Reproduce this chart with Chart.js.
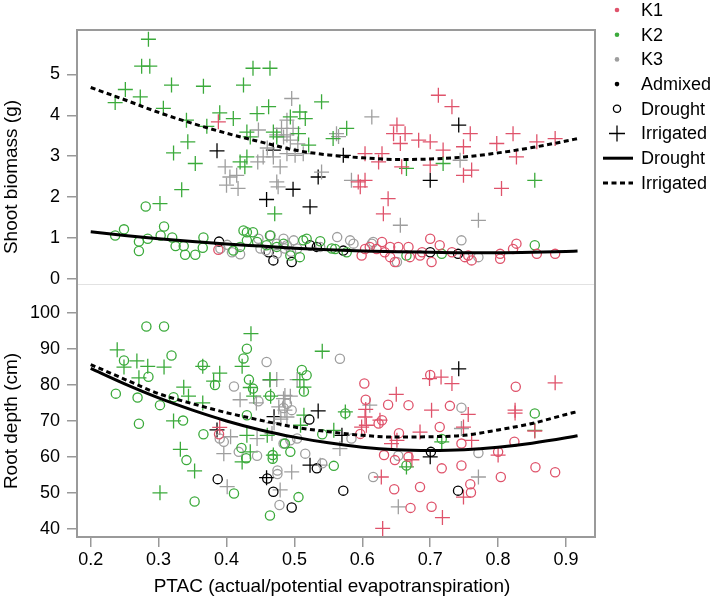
<!DOCTYPE html>
<html><head><meta charset="utf-8">
<script src="https://cdn.jsdelivr.net/npm/chart.js@4.4.1/dist/chart.umd.min.js"></script>
<style>html,body{margin:0;padding:0;background:#fff;}#wrap{width:714px;height:599px;}</style>
</head><body><div id="wrap"><canvas id="c" width="714" height="599"></canvas></div>
<script>
// ---------- tick labels & titles ----------
const xTicks = [0.2,0.3,0.4,0.5,0.6,0.7,0.8,0.9];
const shootTicks = [0,1,2,3,4,5];
const rootTicks = [40,50,60,70,80,90,100];
const xTitle = 'PTAC (actual/potential evapotranspiration)';
const shootTitle = 'Shoot biomass (g)';
const rootTitle = 'Root depth (cm)';
const groups = ['K1','K2','K3','Admixed'];
const treatments = ['Drought','Irrigated'];

// ---------- shoot biomass (g) : [PTAC, value] ----------
const shootIrrigatedK1 = [[0.712,4.49],[0.732,4.21],[0.651,3.76],[0.646,3.55],[0.663,3.55],[0.656,3.31],[0.683,3.39],[0.700,3.35],[0.719,3.15],[0.749,3.23],[0.759,3.55],[0.798,3.31],[0.822,3.55],[0.827,2.98],[0.857,3.35],[0.884,3.43],[0.604,3.06],[0.629,3.06],[0.624,2.86],[0.700,2.78],[0.749,2.53],[0.761,2.66],[0.658,2.74],[0.604,2.41],[0.597,2.25],[0.805,2.21],[0.638,1.96],[0.631,1.59],[0.388,3.84],[0.594,2.37]];
const shootIrrigatedK2 = [[0.285,5.86],[0.275,5.20],[0.287,5.20],[0.251,4.63],[0.273,4.45],[0.236,4.31],[0.307,4.17],[0.319,4.74],[0.366,4.71],[0.341,3.88],[0.371,3.73],[0.390,4.06],[0.410,3.92],[0.343,3.35],[0.322,3.08],[0.354,2.82],[0.334,2.18],[0.302,1.84],[0.425,4.74],[0.439,5.15],[0.464,5.15],[0.445,4.04],[0.462,4.21],[0.430,3.59],[0.435,3.47],[0.420,2.86],[0.430,2.98],[0.427,2.74],[0.469,3.59],[0.474,3.47],[0.494,3.96],[0.508,4.08],[0.516,3.92],[0.540,4.33],[0.521,3.27],[0.506,3.55],[0.471,1.59],[0.557,3.43],[0.577,3.68],[0.665,2.70],[0.719,2.82],[0.854,2.41]];
const shootIrrigatedK3 = [[0.496,4.41],[0.489,3.88],[0.481,3.68],[0.498,3.68],[0.484,3.47],[0.494,3.39],[0.454,2.98],[0.446,2.86],[0.469,2.98],[0.489,3.06],[0.501,3.02],[0.513,3.06],[0.479,2.74],[0.474,2.37],[0.476,2.25],[0.398,2.74],[0.405,2.49],[0.415,2.53],[0.400,2.29],[0.417,2.21],[0.540,2.61],[0.584,2.41],[0.562,3.55],[0.447,3.64],[0.474,3.52],[0.489,3.52],[0.565,3.48],[0.614,3.96],[0.744,2.90],[0.656,1.31],[0.771,1.43],[0.460,3.20],[0.505,3.30]];
const shootIrrigatedAdm = [[0.386,3.13],[0.469,3.15],[0.459,1.94],[0.498,2.19],[0.523,1.76],[0.535,2.49],[0.572,3.02],[0.742,3.76],[0.700,2.41]];
const shootDroughtK1 = [[0.388,0.71],[0.599,0.57],[0.604,0.73],[0.621,0.73],[0.629,0.90],[0.633,0.65],[0.641,0.53],[0.648,0.41],[0.653,0.78],[0.668,0.78],[0.670,0.53],[0.685,0.57],[0.700,0.98],[0.702,0.41],[0.714,0.82],[0.732,0.65],[0.756,0.57],[0.761,0.45],[0.803,0.61],[0.803,0.49],[0.822,0.73],[0.827,0.86],[0.857,0.61],[0.884,0.61],[0.611,0.78],[0.641,0.78],[0.688,0.65],[0.751,0.53]];
const shootDroughtK2 = [[0.281,1.77],[0.236,1.06],[0.249,1.21],[0.271,0.91],[0.271,0.68],[0.284,0.98],[0.303,1.06],[0.308,1.28],[0.320,1.01],[0.325,0.80],[0.337,0.80],[0.339,0.59],[0.354,0.59],[0.366,1.01],[0.365,0.76],[0.425,1.18],[0.430,1.14],[0.439,1.14],[0.430,0.94],[0.410,0.69],[0.464,1.06],[0.459,0.82],[0.484,0.86],[0.494,0.57],[0.508,0.53],[0.513,0.94],[0.518,0.98],[0.538,0.92],[0.555,0.74],[0.577,0.65],[0.474,0.78],[0.560,0.73],[0.665,0.57],[0.717,0.61],[0.854,0.82],[0.445,0.90],[0.420,0.78]];
const shootDroughtK3 = [[0.391,0.74],[0.401,0.83],[0.408,0.65],[0.420,0.60],[0.447,0.98],[0.450,0.74],[0.465,1.06],[0.474,0.86],[0.484,0.98],[0.474,0.61],[0.489,0.82],[0.499,0.94],[0.504,0.74],[0.563,1.02],[0.587,0.86],[0.538,0.78],[0.486,0.74],[0.614,0.86],[0.616,0.90],[0.746,0.94],[0.651,0.41],[0.771,0.53],[0.582,0.94],[0.458,0.70],[0.495,0.66]];
const shootDroughtAdm = [[0.389,0.91],[0.462,0.65],[0.469,0.45],[0.496,0.41],[0.533,0.78],[0.523,0.82],[0.572,0.69],[0.700,0.65],[0.741,0.61]];

// ---------- root depth (cm) : [PTAC, value] ----------
const rootIrrigatedK1 = [[0.390,68.2],[0.699,81.8],[0.716,82.2],[0.732,80.4],[0.650,77.4],[0.702,73.0],[0.884,80.6],[0.825,73.0],[0.605,73.2],[0.756,71.8],[0.604,71.1],[0.599,68.3],[0.626,70.2],[0.685,66.9],[0.749,68.3],[0.761,64.6],[0.643,63.7],[0.651,64.6],[0.673,59.2],[0.800,60.5],[0.854,67.2],[0.628,54.4],[0.749,48.8],[0.718,43.1],[0.630,40.1],[0.606,68.8],[0.825,72.2]];
const rootIrrigatedK2 = [[0.239,89.8],[0.249,85.0],[0.268,86.7],[0.284,85.2],[0.308,85.0],[0.271,82.0],[0.337,79.4],[0.344,76.9],[0.365,75.0],[0.365,85.2],[0.390,83.3],[0.381,81.1],[0.436,94.3],[0.423,85.2],[0.435,79.3],[0.440,76.9],[0.464,81.5],[0.465,76.9],[0.508,81.5],[0.514,79.4],[0.541,89.4],[0.322,70.0],[0.332,62.1],[0.353,56.1],[0.302,50.0],[0.430,66.0],[0.435,61.4],[0.423,58.6],[0.469,60.5],[0.460,66.0],[0.514,71.6],[0.509,68.8],[0.558,67.4],[0.575,72.5],[0.854,67.4],[0.717,64.2],[0.665,57.2]];
const rootIrrigatedK3 = [[0.474,81.5],[0.504,81.5],[0.494,76.9],[0.484,76.2],[0.420,75.9],[0.477,73.9],[0.406,65.6],[0.396,60.9],[0.445,65.1],[0.401,51.7],[0.479,50.8],[0.496,55.8],[0.464,81.3],[0.486,77.1],[0.486,73.0],[0.489,71.1],[0.444,75.0],[0.467,66.5],[0.567,62.3],[0.538,57.7],[0.611,74.4],[0.746,67.9],[0.653,46.1],[0.771,54.4],[0.480,70.5],[0.470,69.5]];
const rootIrrigatedAdm = [[0.386,67.5],[0.470,71.2],[0.535,72.8],[0.523,57.7],[0.459,54.2],[0.570,66.0],[0.742,84.5],[0.700,60.0]];
const rootDroughtK1 = [[0.389,66.3],[0.603,80.4],[0.605,75.9],[0.638,74.5],[0.668,74.4],[0.700,82.8],[0.729,74.2],[0.714,68.3],[0.629,70.2],[0.624,69.3],[0.597,66.4],[0.654,66.6],[0.746,63.7],[0.632,60.5],[0.648,59.1],[0.668,60.0],[0.717,56.8],[0.746,57.6],[0.800,61.4],[0.824,64.2],[0.826,79.5],[0.855,57.1],[0.884,55.7],[0.804,54.4],[0.647,51.0],[0.685,51.6],[0.671,45.8],[0.702,46.1],[0.759,52.4],[0.760,50.1]];
const rootDroughtK2 = [[0.282,96.3],[0.308,96.3],[0.319,88.2],[0.249,86.8],[0.285,82.3],[0.237,77.6],[0.269,76.5],[0.302,74.4],[0.322,76.6],[0.336,70.1],[0.271,69.2],[0.341,59.1],[0.353,47.6],[0.365,85.5],[0.366,66.3],[0.383,80.0],[0.430,90.1],[0.425,87.4],[0.433,81.5],[0.439,79.0],[0.430,71.6],[0.422,62.5],[0.429,59.6],[0.411,49.8],[0.464,77.0],[0.468,60.5],[0.468,59.5],[0.464,43.7],[0.486,63.7],[0.494,61.4],[0.511,84.2],[0.518,82.7],[0.514,78.2],[0.506,48.8],[0.541,66.3],[0.558,57.5],[0.575,72.1],[0.717,65.0],[0.665,57.6],[0.854,72.1]];
const rootDroughtK3 = [[0.459,86.4],[0.411,79.6],[0.447,75.5],[0.484,73.6],[0.489,74.8],[0.496,73.0],[0.567,87.3],[0.390,65.1],[0.396,64.2],[0.418,61.4],[0.445,60.3],[0.475,56.2],[0.475,55.2],[0.478,46.6],[0.484,63.7],[0.494,64.6],[0.504,65.1],[0.516,60.9],[0.541,58.2],[0.584,65.1],[0.746,73.7],[0.771,61.1],[0.653,60.3],[0.616,54.4]];
const rootDroughtAdm = [[0.387,53.8],[0.460,54.0],[0.469,50.3],[0.496,45.9],[0.522,70.4],[0.533,56.8],[0.572,50.6],[0.741,50.6],[0.701,61.4]];

// ---------- fitted curves ----------
const fitX = [0.2,0.25,0.3,0.35,0.4,0.45,0.5,0.55,0.6,0.65,0.7,0.75,0.8,0.85,0.9,0.917];
const shootFitDrought   = [1.15,1.06,0.98,0.91,0.85,0.80,0.75,0.71,0.68,0.66,0.65,0.64,0.64,0.65,0.67,0.68];
const shootFitIrrigated = [4.68,4.38,4.07,3.80,3.56,3.35,3.15,3.03,2.96,2.92,2.93,2.98,3.08,3.21,3.37,3.43];
const rootFitDrought    = [84.6,80.3,76.4,73.0,70.0,67.5,65.5,63.9,62.7,62.0,61.8,62.0,62.7,63.8,65.3,65.9];
const rootFitIrrigated  = [85.7,81.6,77.6,74.8,72.3,70.2,68.3,67.0,66.0,65.5,65.6,66.0,67.5,69.3,71.8,72.6];

// ---------- styles ----------
const groupColor = {K1:'#DF536B', K2:'#3BAA3B', K3:'#9E9E9E', Admixed:'#000000'};
const FONT = '"Liberation Sans", Arial, Helvetica, sans-serif';
Chart.defaults.font.family = FONT;
Chart.defaults.font.size = 18;
Chart.defaults.color = '#000';

const toPts = arr => arr.map(p => ({x:p[0], y:p[1]}));
const series = [
  ['yTop','Drought','K1',shootDroughtK1],['yTop','Drought','K2',shootDroughtK2],['yTop','Drought','K3',shootDroughtK3],['yTop','Drought','Admixed',shootDroughtAdm],
  ['yTop','Irrigated','K1',shootIrrigatedK1],['yTop','Irrigated','K2',shootIrrigatedK2],['yTop','Irrigated','K3',shootIrrigatedK3],['yTop','Irrigated','Admixed',shootIrrigatedAdm],
  ['yBot','Drought','K1',rootDroughtK1],['yBot','Drought','K2',rootDroughtK2],['yBot','Drought','K3',rootDroughtK3],['yBot','Drought','Admixed',rootDroughtAdm],
  ['yBot','Irrigated','K1',rootIrrigatedK1],['yBot','Irrigated','K2',rootIrrigatedK2],['yBot','Irrigated','K3',rootIrrigatedK3],['yBot','Irrigated','Admixed',rootIrrigatedAdm]
];
const datasets = series.map(([ax,tr,g,arr]) => ({
  label: g + ' ' + tr, data: toPts(arr), yAxisID: ax, xAxisID: 'x',
  showLine: false, order: 2,
  pointStyle: tr === 'Drought' ? 'circle' : 'cross',
  pointRadius: tr === 'Drought' ? 4.6 : 7.5,
  pointBorderWidth: 1.3,
  pointBorderColor: groupColor[g],
  pointBackgroundColor: 'rgba(0,0,0,0)'
}));
const fits = [['yTop','Drought',shootFitDrought],['yTop','Irrigated',shootFitIrrigated],['yBot','Drought',rootFitDrought],['yBot','Irrigated',rootFitIrrigated]];
fits.forEach(([ax,tr,vals]) => datasets.push({
  label: tr + ' fit', data: fitX.map((x,i)=>({x, y: vals[i]})), yAxisID: ax, xAxisID:'x',
  showLine: true, order: 0, pointRadius: 0, borderColor:'#000', borderWidth: 3,
  borderDash: tr === 'Drought' ? [] : [5,3.5], cubicInterpolationMode:'monotone', fill:false
}));

const setTicks = vals => (s => { s.ticks = vals.map(v => ({value:v})); });
const tickGrid = {display:true, drawOnChartArea:false, drawTicks:true, tickLength:10, color:'#999', lineWidth:1.5};

const legendItems = [
  {kind:'dot', color:groupColor.K1, text:groups[0]},
  {kind:'dot', color:groupColor.K2, text:groups[1]},
  {kind:'dot', color:groupColor.K3, text:groups[2]},
  {kind:'dot', color:groupColor.Admixed, text:groups[3]},
  {kind:'circle', color:'#000', text:treatments[0]},
  {kind:'cross', color:'#000', text:treatments[1]},
  {kind:'line', color:'#000', text:treatments[0]},
  {kind:'dash', color:'#000', text:treatments[1]}
];

const decor = {
  id:'decor',
  afterDraw(chart){
    const {ctx, chartArea:a} = chart;
    const yT = chart.scales.yTop;
    ctx.save();
    ctx.strokeStyle = '#e2e2e2'; ctx.lineWidth = 1;
    ctx.beginPath(); ctx.moveTo(a.left, Math.round(yT.bottom)+0.5); ctx.lineTo(a.right, Math.round(yT.bottom)+0.5); ctx.stroke();
    ctx.strokeStyle = '#9a9a9a'; ctx.lineWidth = 2;
    ctx.strokeRect(a.left, a.top, a.right - a.left, a.bottom - a.top);
    ctx.fillStyle = '#000';
    ctx.font = '19px ' + FONT;
    ctx.textAlign = 'center'; ctx.textBaseline = 'middle';
    ctx.fillText(xTitle, 332, 587);
    ctx.save(); ctx.translate(12, 177); ctx.rotate(-Math.PI/2); ctx.fillText(shootTitle, 0, 0); ctx.restore();
    ctx.save(); ctx.translate(12, 421); ctx.rotate(-Math.PI/2); ctx.fillText(rootTitle, 0, 0); ctx.restore();
    // legend
    ctx.font = '18px ' + FONT; ctx.textAlign = 'left';
    legendItems.forEach((it, i) => {
      const y = 10 + i * 24.7, mx = 617;
      ctx.strokeStyle = it.color; ctx.fillStyle = it.color; ctx.setLineDash([]);
      if (it.kind === 'dot') { ctx.beginPath(); ctx.arc(mx, y, 2.3, 0, Math.PI*2); ctx.fill(); }
      else if (it.kind === 'circle') { ctx.lineWidth = 1.3; ctx.beginPath(); ctx.arc(mx, y, 3.6, 0, Math.PI*2); ctx.stroke(); }
      else if (it.kind === 'cross') { ctx.lineWidth = 1.3; ctx.beginPath(); ctx.moveTo(mx-8, y); ctx.lineTo(mx+8, y); ctx.moveTo(mx, y-8); ctx.lineTo(mx, y+8); ctx.stroke(); }
      else { ctx.lineWidth = 3; if (it.kind === 'dash') ctx.setLineDash([5,3.5]); ctx.beginPath(); ctx.moveTo(603, y); ctx.lineTo(633, y); ctx.stroke(); ctx.setLineDash([]); }
      ctx.fillStyle = '#000';
      ctx.fillText(it.text, 641, y + 1);
    });
    ctx.restore();
  }
};

new Chart(document.getElementById('c'), {
  type: 'scatter',
  data: { datasets },
  options: {
    responsive: false, animation: false, devicePixelRatio: 1,
    layout: { padding: {top:30, right:119, bottom:0, left:0} },
    plugins: { legend:{display:false}, tooltip:{enabled:false} },
    scales: {
      x: { type:'linear', position:'bottom', min:0.1798, max:0.9427,
           afterBuildTicks: setTicks(xTicks), afterFit: s => { s.height = 62; },
           ticks:{ padding:2, callback: v => v.toFixed(1), maxRotation:0, autoSkip:false },
           grid: tickGrid, border:{display:false} },
      yTop: { type:'linear', position:'left', stack:'panels', stackWeight:1, weight:1,
              min:-0.115, max:6.086, afterBuildTicks: setTicks(shootTicks), afterFit: s => { s.width = 77; },
              ticks:{ padding:7, callback: v => String(v), autoSkip:false }, grid: tickGrid, border:{display:false} },
      yBot: { type:'linear', position:'left', stack:'panels', stackWeight:1, weight:0,
              min:37.7, max:108.25, afterBuildTicks: setTicks(rootTicks), afterFit: s => { s.width = 77; },
              ticks:{ padding:7, callback: v => String(v), autoSkip:false }, grid: tickGrid, border:{display:false} }
    }
  },
  plugins: [decor]
});
</script>
</body></html>
